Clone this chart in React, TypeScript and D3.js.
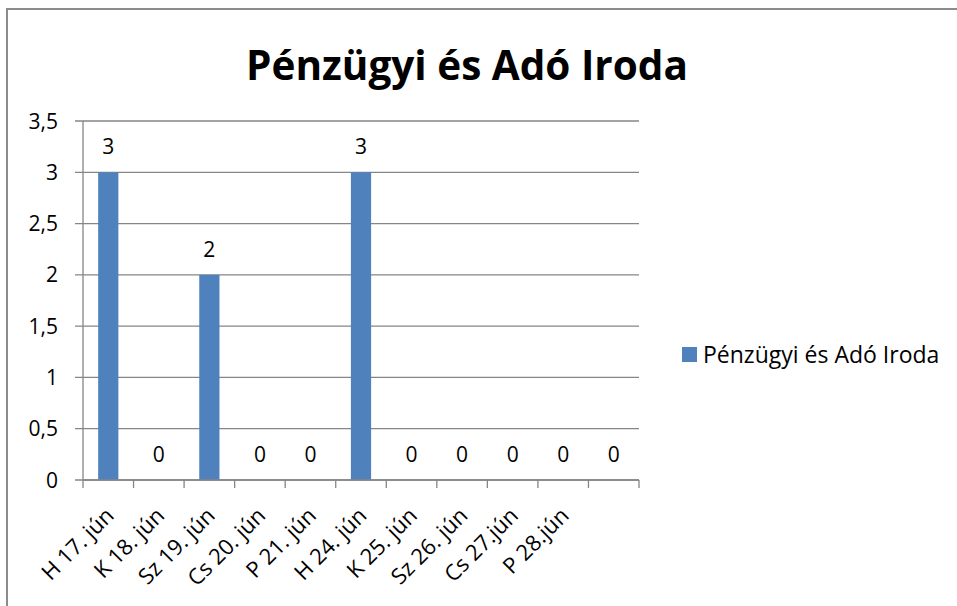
import * as d3 from "d3";
import { useEffect, useRef } from "react";

const categories = [
  "H 17. jún",
  "K 18. jún",
  "Sz 19. jún",
  "Cs 20. jún",
  "P 21. jún",
  "H 24. jún",
  "K 25. jún",
  "Sz 26. jún",
  "Cs 27.jún",
  "P 28.jún",
  "",
];
const values = [3, 0, 2, 0, 0, 3, 0, 0, 0, 0, 0];
const yTicks = [0, 0.5, 1, 1.5, 2, 2.5, 3, 3.5];
const seriesName = "Pénzügyi és Adó Iroda";
const title = "Pénzügyi és Adó Iroda";

const FONT = "'Open Sans', 'DejaVu Sans', sans-serif";

const App = () => {
  const ref = useRef<HTMLDivElement>(null);

  useEffect(() => {
    d3.select(ref.current).select("svg").remove();

    const W = 957,
      H = 606;
    const plot = { left: 83, right: 639, top: 121, bottom: 480 };

    const svg = d3
      .select(ref.current)
      .append("svg")
      .attr("width", W)
      .attr("height", H)
      .style("position", "absolute")
      .style("left", "0px")
      .style("top", "0px")
      .style("font-family", FONT);

    svg.append("rect").attr("width", W).attr("height", H).attr("fill", "white");

    // outer frame of the chart
    svg
      .append("rect")
      .attr("x", 7)
      .attr("y", 9)
      .attr("width", W)
      .attr("height", H)
      .attr("fill", "none")
      .attr("stroke", "#8c8c8c")
      .attr("stroke-width", 2);

    svg
      .append("text")
      .attr("x", 467)
      .attr("y", 80)
      .attr("text-anchor", "middle")
      .attr("font-size", 40.5)
      .attr("font-weight", "bold")
      .attr("fill", "#000")
      .text(title);

    const x = d3
      .scaleBand()
      .domain(categories.map((d, i) => String(i)))
      .range([plot.left, plot.right])
      .paddingInner(0.6)
      .paddingOuter(0.3);
    const band = d3
      .scaleBand()
      .domain(categories.map((d, i) => String(i)))
      .range([plot.left, plot.right]);

    const y = d3.scaleLinear().domain([0, 3.5]).range([plot.bottom, plot.top]);

    // gridlines
    svg
      .append("g")
      .selectAll("line")
      .data(yTicks)
      .join("line")
      .attr("x1", plot.left - 8)
      .attr("x2", plot.right)
      .attr("y1", (d) => y(d))
      .attr("y2", (d) => y(d))
      .attr("stroke", "#868686")
      .attr("stroke-width", 1.3);

    // y axis line
    svg
      .append("line")
      .attr("x1", plot.left)
      .attr("x2", plot.left)
      .attr("y1", plot.top)
      .attr("y2", plot.bottom)
      .attr("stroke", "#868686")
      .attr("stroke-width", 1.3);

    // y tick labels
    svg
      .append("g")
      .selectAll("text")
      .data(yTicks)
      .join("text")
      .attr("x", 58)
      .attr("y", (d) => y(d))
      .attr("dy", "0.36em")
      .attr("text-anchor", "end")
      .attr("font-size", 21)
      .attr("fill", "#000")
      .text((d) => String(d).replace(".", ","));

    // x tick marks at category boundaries
    const bounds = categories.map((d, i) => band(String(i))!).concat([plot.right]);
    svg
      .append("g")
      .selectAll("line")
      .data(bounds)
      .join("line")
      .attr("x1", (d) => d)
      .attr("x2", (d) => d)
      .attr("y1", plot.bottom)
      .attr("y2", plot.bottom + 8)
      .attr("stroke", "#868686")
      .attr("stroke-width", 1.3);

    // bars
    svg
      .append("g")
      .selectAll("rect")
      .data(values)
      .join("rect")
      .attr("x", (d, i) => x(String(i))!)
      .attr("y", (d) => y(d))
      .attr("width", x.bandwidth())
      .attr("height", (d) => plot.bottom - y(d))
      .attr("fill", "#4f81bd");

    // data labels
    svg
      .append("g")
      .selectAll("text")
      .data(values)
      .join("text")
      .attr("x", (d, i) => band(String(i))! + band.bandwidth() / 2)
      .attr("y", (d) => y(d) - 18)
      .attr("text-anchor", "middle")
      .attr("font-size", 21)
      .attr("fill", "#000")
      .text((d) => d);

    // category labels
    svg
      .append("g")
      .selectAll("text")
      .data(categories)
      .join("text")
      .attr("text-anchor", "end")
      .attr("font-size", 22)
      .attr("fill", "#000")
      .attr("transform", (d, i) => {
        const cx = band(String(i))! + band.bandwidth() / 2 + 7;
        return `translate(${cx},${plot.bottom + 37}) rotate(-45)`;
      })
      .text((d) => d);

    // x axis line on top
    svg
      .append("line")
      .attr("x1", plot.left)
      .attr("x2", plot.right)
      .attr("y1", plot.bottom)
      .attr("y2", plot.bottom)
      .attr("stroke", "#868686")
      .attr("stroke-width", 1.3);

    // legend
    const legend = svg.append("g").attr("transform", "translate(682,347)");
    legend.append("rect").attr("width", 15).attr("height", 15).attr("fill", "#4f81bd");
    legend
      .append("text")
      .attr("x", 21)
      .attr("y", 16)
      .attr("font-size", 23)
      .attr("fill", "#000")
      .text(seriesName);
  }, []);

  return <div ref={ref} />;
};

export default App;
